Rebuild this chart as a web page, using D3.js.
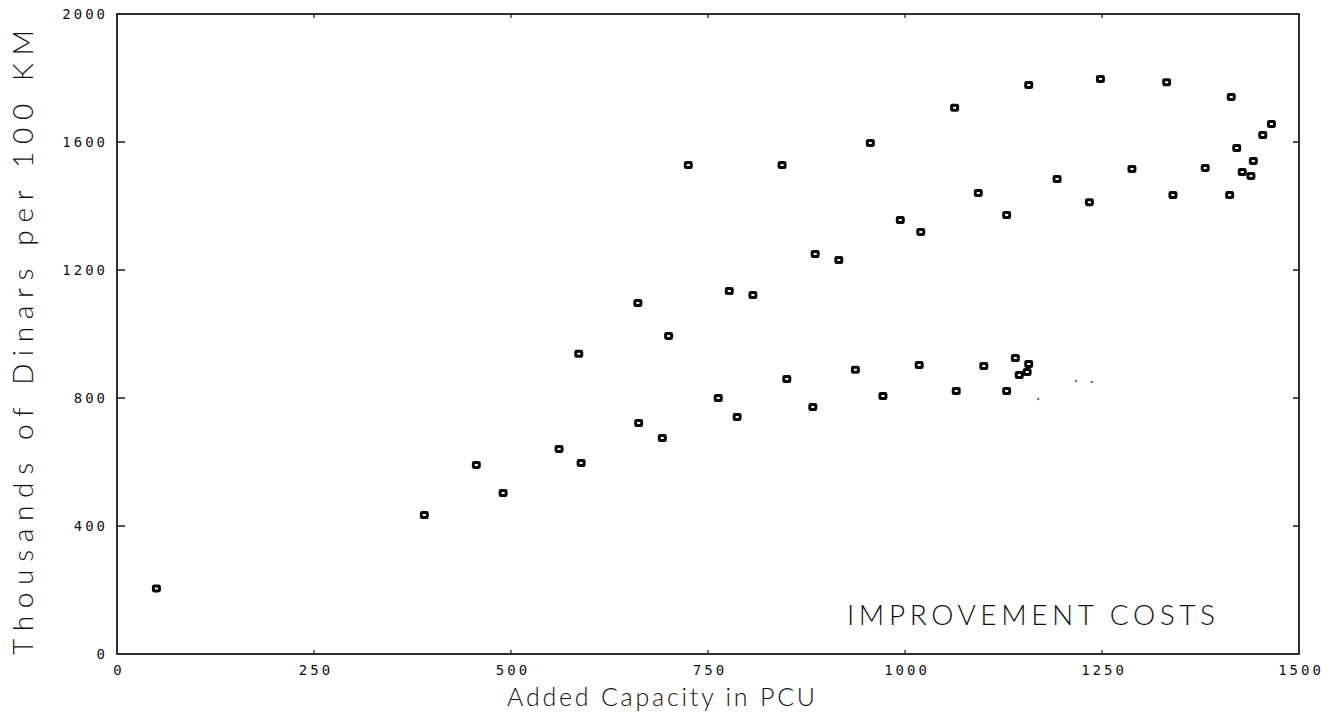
<!DOCTYPE html>
<html>
<head>
<meta charset="utf-8">
<script src="https://cdn.jsdelivr.net/npm/d3@7"></script>
<style>
  body { margin: 0; background: #fff; }
  #chart-improvement-costs { width: 1329px; height: 714px; }
  .tick-label { font-family: "DejaVu Sans Mono", monospace; font-size: 14px; fill: #111; }
  .axis-label { font-family: Lato, "Open Sans", sans-serif; font-weight: 300; fill: #111; }
</style>
</head>
<body>
<div id="chart-improvement-costs"></div>
<script>
// Improvement costs vs added capacity – scatter of square markers

// added capacity (PCU)
const capacity = [
  50, 390, 456, 490, 561, 586, 589, 661, 662, 692, 700, 725, 763, 777, 787,
  807, 844, 850, 883, 886, 916, 937, 956, 972, 994, 1018, 1020, 1063, 1065,
  1093, 1100, 1129, 1129, 1140, 1145, 1155, 1157, 1157, 1193, 1234, 1248,
  1288, 1332, 1340, 1381, 1412, 1414, 1421, 1428, 1439, 1442, 1454, 1465
];
// thousands of dinars per 100 km
const cost = [
  205, 434, 591, 503, 641, 938, 597, 1097, 722, 675, 994, 1528, 800, 1134, 741,
  1122, 1528, 859, 772, 1250, 1231, 888, 1597, 806, 1356, 903, 1319, 1707, 822,
  1441, 900, 822, 1372, 925, 872, 881, 906, 1778, 1484, 1412, 1797,
  1516, 1787, 1434, 1519, 1434, 1741, 1581, 1506, 1494, 1541, 1622, 1656
];

// faint specks near the lower cluster
const speckCapacity = [1169, 1217, 1237];
const speckCost = [797, 853, 850];

const xTicks = [0, 250, 500, 750, 1000, 1250, 1500];
const yTicks = [0, 400, 800, 1200, 1600, 2000];

function renderImprovementCosts(containerId) {
  const container = d3.select(`#${containerId}`);
  const margin = { top: 14, right: 30, bottom: 60, left: 117 };
  const width = 1329;
  const height = 714;

  const svg = container.append("svg")
    .attr("width", width)
    .attr("height", height);

  const innerWidth = width - margin.left - margin.right;
  const innerHeight = height - margin.top - margin.bottom;

  const g = svg.append("g")
    .attr("transform", `translate(${margin.left},${margin.top})`);

  const x = d3.scaleLinear().domain([0, 1500]).range([0, innerWidth]);
  const y = d3.scaleLinear().domain([0, 2000]).range([innerHeight, 0]);

  // frame
  g.append("rect")
    .attr("width", innerWidth)
    .attr("height", innerHeight)
    .attr("fill", "none")
    .attr("stroke", "#1a1a1a")
    .attr("stroke-width", 1.8);

  // y ticks, inward on both sides
  const yInner = yTicks.filter(d => d > 0 && d < 2000);
  g.selectAll(".ytick-l")
    .data(yInner)
    .join("line")
    .attr("x1", 0).attr("x2", 8)
    .attr("y1", d => y(d)).attr("y2", d => y(d))
    .attr("stroke", "#1a1a1a").attr("stroke-width", 1.5);
  g.selectAll(".ytick-r")
    .data(yInner)
    .join("line")
    .attr("x1", innerWidth - 6).attr("x2", innerWidth)
    .attr("y1", d => y(d)).attr("y2", d => y(d))
    .attr("stroke", "#1a1a1a").attr("stroke-width", 1.5);

  // x ticks, small marks at top and bottom
  const xInner = xTicks.filter(d => d > 0 && d < 1500);
  g.selectAll(".xtick-b")
    .data(xInner)
    .join("line")
    .attr("x1", d => x(d)).attr("x2", d => x(d))
    .attr("y1", innerHeight - 4).attr("y2", innerHeight)
    .attr("stroke", "#1a1a1a").attr("stroke-width", 1.2);
  g.selectAll(".xtick-t")
    .data(xInner)
    .join("line")
    .attr("x1", d => x(d)).attr("x2", d => x(d))
    .attr("y1", 0).attr("y2", 4)
    .attr("stroke", "#1a1a1a").attr("stroke-width", 1.2);

  // tick labels
  g.selectAll(".ylab")
    .data(yTicks)
    .join("text")
    .attr("class", "tick-label")
    .attr("x", -9)
    .attr("y", d => y(d))
    .attr("dy", "0.35em")
    .attr("text-anchor", "end")
    .attr("letter-spacing", "3px")
    .text(d => d);

  g.selectAll(".xlab")
    .data(xTicks)
    .join("text")
    .attr("class", "tick-label")
    .attr("x", d => x(d) + 2)
    .attr("y", innerHeight + 21)
    .attr("text-anchor", "middle")
    .attr("letter-spacing", "3px")
    .text(d => d);

  // faint specks
  g.selectAll(".speck")
    .data(speckCapacity.map((c, i) => [c, speckCost[i]]))
    .join("circle")
    .attr("cx", d => x(d[0]))
    .attr("cy", d => y(d[1]))
    .attr("r", 1.3)
    .attr("fill", "#777");

  // square markers, heavy outline with a small hole
  g.selectAll(".pt")
    .data(capacity.map((c, i) => [c, cost[i]]))
    .join("rect")
    .attr("x", d => x(d[0]) - 3)
    .attr("y", d => y(d[1]) - 2.5)
    .attr("width", 6)
    .attr("height", 5)
    .attr("rx", 0.8)
    .attr("fill", "#fff")
    .attr("stroke", "#0a0a0a")
    .attr("stroke-width", 3);

  // axis titles
  g.append("text")
    .attr("class", "axis-label")
    .attr("x", 390)
    .attr("y", innerHeight + 52)
    .attr("font-size", 25)
    .attr("textLength", 308)
    .attr("lengthAdjust", "spacing")
    .text("Added Capacity in PCU");

  g.append("text")
    .attr("class", "axis-label")
    .attr("transform", "rotate(-90)")
    .attr("x", -641)
    .attr("y", -84)
    .attr("font-size", 28)
    .attr("textLength", 625)
    .attr("lengthAdjust", "spacing")
    .text("Thousands of Dinars per 100 KM");

  g.append("text")
    .attr("class", "axis-label")
    .attr("x", 730)
    .attr("y", 611)
    .attr("font-size", 28)
    .attr("textLength", 368)
    .attr("lengthAdjust", "spacing")
    .text("IMPROVEMENT COSTS");
}

document.addEventListener("DOMContentLoaded", () => {
  renderImprovementCosts("chart-improvement-costs");
});
</script>
</body>
</html>
